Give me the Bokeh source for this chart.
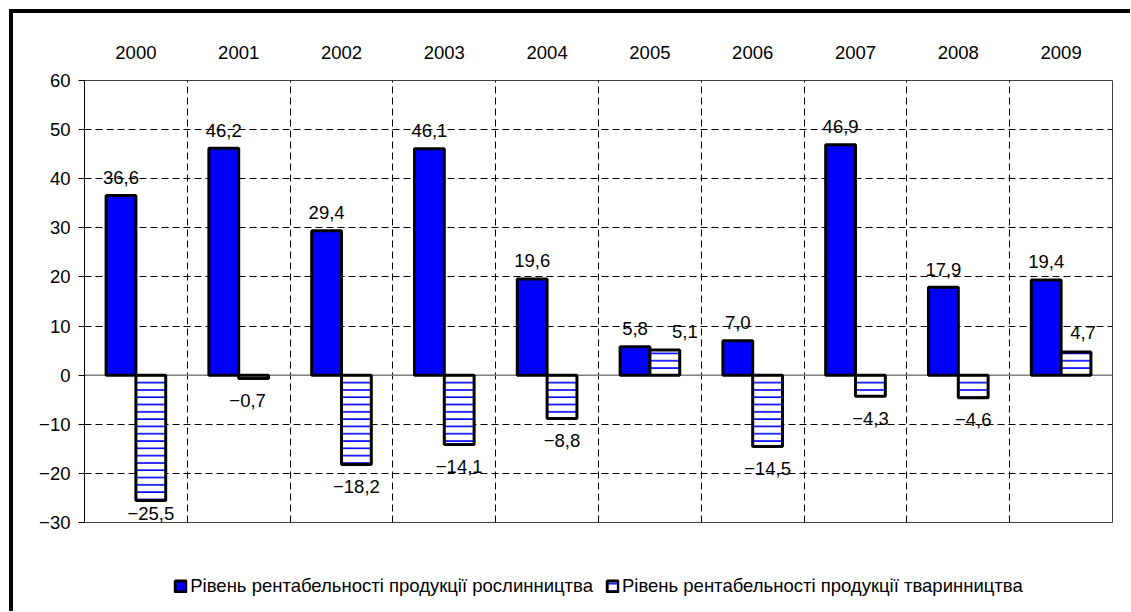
from bokeh.plotting import figure
from bokeh.layouts import column
from bokeh.models import (Range1d, FixedTicker, LinearAxis, Legend, LegendItem,
                          ColumnDataSource, Span)
from bokeh.transform import dodge
from bokeh.core.properties import value
from bokeh.embed import file_html
from bokeh.resources import INLINE

# ---- data ----
years = ["2000", "2001", "2002", "2003", "2004", "2005", "2006", "2007", "2008", "2009"]
crop_profit = [36.6, 46.2, 29.4, 46.1, 19.6, 5.8, 7.0, 46.9, 17.9, 19.4]
livestock_profit = [-25.5, -0.7, -18.2, -14.1, -8.8, 5.1, -14.5, -4.3, -4.6, 4.7]
y_ticks = [-30, -20, -10, 0, 10, 20, 30, 40, 50, 60]
series_names = ["Рівень рентабельності продукції рослинництва",
                "Рівень рентабельності продукції тваринництва"]

# ---- style ----
FONT = "Liberation Sans"
FS = "18.5px"
BLUE = "#0000FF"
crop_label_dy = [-18] * 10
live_label_dy = [13, 22, 22, 22, 22, -19, 22, 22, 22, -20]
live_label_dx = [0, -6, 0, 0, 0, 20, 0, 0, 0, 7]


def fmt(v):
    s = f"{v:.1f}".replace(".", ",")
    return s.replace("-", "\u2212")


pos = [i + 0.5 for i in range(len(years))]
src = ColumnDataSource(dict(
    x=pos,
    crop=crop_profit,
    live=livestock_profit,
    crop_lbl=[fmt(v) for v in crop_profit],
    live_lbl=[fmt(v) for v in livestock_profit],
    crop_off=crop_label_dy,
    live_off=live_label_dy,
    live_dx=live_label_dx,
))

W = 1117
p = figure(width=W, height=548, output_backend="svg", toolbar_location=None,
           x_range=Range1d(0, len(years)), y_range=Range1d(-30, 60),
           min_border_left=71, min_border_top=67, min_border_right=18,
           min_border_bottom=39, x_axis_location=None)

p.background_fill_color = "white"
p.border_fill_color = "white"
p.outline_line_color = "#404040"
p.outline_line_width = 1

# y axis
ya = p.yaxis[0]
ya.ticker = FixedTicker(ticks=y_ticks)
ya.major_tick_out = 6
ya.major_tick_in = 0
ya.minor_tick_line_color = None
ya.axis_line_color = "black"
ya.major_tick_line_color = "black"
ya.major_label_text_font = FONT
ya.major_label_text_font_size = FS
ya.major_label_text_color = "black"
ya.major_label_standoff = 8

# top axis with years
ta = LinearAxis(ticker=FixedTicker(ticks=pos),
                major_label_overrides={x: y for x, y in zip(pos, years)})
ta.axis_line_color = None
ta.major_tick_line_color = None
ta.minor_tick_line_color = None
ta.major_label_text_font = FONT
ta.major_label_text_font_size = FS
ta.major_label_text_color = "black"
ta.major_label_standoff = 16
p.add_layout(ta, "above")

# grids
p.ygrid.ticker = FixedTicker(ticks=y_ticks[1:-1])
p.ygrid.grid_line_color = "black"
p.ygrid.grid_line_dash = "7 4"
p.ygrid.grid_line_width = 1
p.xgrid.ticker = FixedTicker(ticks=list(range(1, len(years))))
p.xgrid.grid_line_color = "black"
p.xgrid.grid_line_dash = "7 4"
p.xgrid.grid_line_width = 1

zero = Span(location=0, dimension="width", line_color="#808080", line_width=1.5,
            level="underlay")
p.add_layout(zero)

bw = 0.29
bar1 = dict(fill_color=BLUE, line_color="black", line_width=3)
bar2 = dict(fill_color="white", line_color="black", line_width=3,
            hatch_pattern="horizontal_line", hatch_color=BLUE, hatch_weight=1.6,
            hatch_scale=7.3)
p.vbar(x=dodge("x", -bw / 2), top="crop", bottom=0, width=bw, source=src, **bar1)
p.vbar(x=dodge("x", bw / 2), top="live", bottom=0, width=bw, source=src, **bar2)

p.text(x=dodge("x", -bw / 2), y="crop", text="crop_lbl", source=src,
       y_offset="crop_off", text_align="center", text_baseline="middle",
       text_font=value(FONT), text_font_size=FS, text_color="black")
p.text(x=dodge("x", bw / 2), y="live", text="live_lbl", source=src,
       y_offset="live_off", x_offset="live_dx", text_align="center",
       text_baseline="middle",
       text_font=value(FONT), text_font_size=FS, text_color="black")

# legend strip: hidden copies of the bar renderers feed the legend only
lg = figure(width=W, height=50, output_backend="svg", toolbar_location=None,
            x_range=Range1d(0, len(years)), y_range=Range1d(-30, 60),
            min_border_left=11, min_border_right=0, min_border_top=0,
            min_border_bottom=0, x_axis_location=None, y_axis_location=None)
lg.outline_line_color = None
lg.xgrid.visible = False
lg.ygrid.visible = False
lg.background_fill_color = "white"
lg.border_fill_color = "white"
l1 = lg.vbar(x="x", top="crop", bottom=0, width=bw, source=src, visible=False, **bar1)
l2 = lg.vbar(x="x", top="live", bottom=0, width=bw, source=src, visible=False, **bar2)
legend = Legend(items=[LegendItem(label=series_names[0], renderers=[l1]),
                       LegendItem(label=series_names[1], renderers=[l2])],
                orientation="horizontal", location="center",
                label_text_font=FONT, label_text_font_size=FS,
                label_text_color="black",
                glyph_width=14, glyph_height=14, label_standoff=3, spacing=12,
                padding=0, margin=0, border_line_color=None,
                background_fill_alpha=0, inactive_fill_alpha=0)
lg.add_layout(legend)

layout = column(p, lg, spacing=0,
                styles={"border-left": "4px solid black",
                        "border-top": "4px solid black",
                        "margin-left": "9px", "margin-top": "9px"})

open("out.html", "w").write(file_html(layout, INLINE))
